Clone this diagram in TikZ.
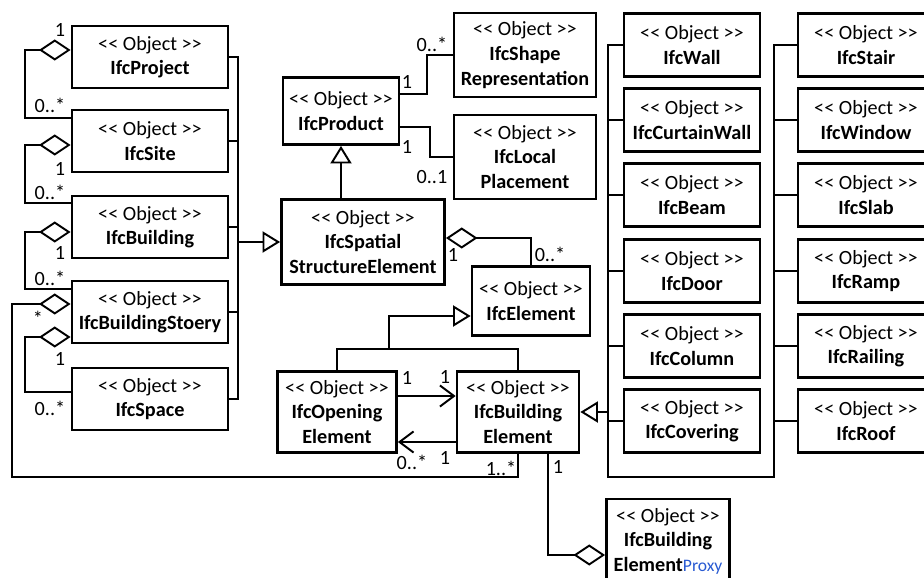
\documentclass[tikz,border=0pt]{standalone}
\usepackage{fontspec}
\setmainfont{Carlito}
\usetikzlibrary{arrows.meta}
\definecolor{proxyblue}{RGB}{40,90,210}
\newcommand{\objtag}{<\kern0pt< Object >\kern0pt>}

\begin{document}
\begin{tikzpicture}[x=0.02cm, y=-0.02cm,
  obj/.style={draw, line width=1.6pt, inner sep=0pt, align=center, font=\fontsize{11.5}{14}\selectfont},
  link/.style={line width=1.1pt},
  agg/.style={link, {Diamond[open, length=18pt, width=12pt]}-},
  gen/.style={link, -{Triangle[open, length=10pt, width=12pt]}},
  nav/.style={link, -{Straight Barb[length=8pt, width=12pt]}},
  mult/.style={font=\fontsize{11.5}{14}\selectfont, inner sep=0pt}]
  \useasboundingbox (0,0) rectangle (924,578);
  \clip (0,0) rectangle (924,578);

  % spatial structure (left column)
  \node[obj, minimum width=3.12cm, minimum height=1.24cm] (proj) at (150,57) {\objtag\\\textbf{IfcProject}};
  \node[obj, minimum width=3.12cm, minimum height=1.24cm] (site) at (150,141) {\objtag\\\textbf{IfcSite}};
  \node[obj, minimum width=3.12cm, minimum height=1.24cm] (bldg) at (150,227) {\objtag\\\textbf{IfcBuilding}};
  \node[obj, minimum width=3.12cm, minimum height=1.24cm] (storey) at (150,312) {\objtag\\\textbf{IfcBuildingStoery}};
  \node[obj, minimum width=3.12cm, minimum height=1.24cm] (space) at (150,399) {\objtag\\\textbf{IfcSpace}};

  % middle part
  \node[obj, minimum width=2.32cm, minimum height=1.34cm] (prod) at (341,111) {\objtag\\\textbf{IfcProduct}};
  \node[obj, minimum width=2.84cm, minimum height=1.68cm] (shape) at (525,55) {\objtag\\\textbf{IfcShape}\\\textbf{Representation}};
  \node[obj, minimum width=2.84cm, minimum height=1.68cm] (local) at (525,157) {\objtag\\\textbf{IfcLocal}\\\textbf{Placement}};
  \node[obj, minimum width=3.26cm, minimum height=1.70cm] (sse) at (363,242) {\objtag\\\textbf{IfcSpatial}\\\textbf{StructureElement}};
  \node[obj, minimum width=2.36cm, minimum height=1.38cm] (elem) at (531,301) {\objtag\\\textbf{IfcElement}};
  \node[obj, minimum width=2.38cm, minimum height=1.62cm] (open) at (337,412) {\objtag\\\textbf{IfcOpening}\\\textbf{Element}};
  \node[obj, minimum width=2.44cm, minimum height=1.62cm] (belem) at (518,412) {\objtag\\\textbf{IfcBuilding}\\\textbf{Element}};
  \node[obj, minimum width=2.46cm, minimum height=1.68cm] (proxy) at (668,541) {\objtag\\\textbf{IfcBuilding}\\\textbf{Element}{\color{proxyblue}\fontsize{10}{12}\selectfont Proxy}};

  % building elements (right columns)
  \node[obj, minimum width=2.72cm, minimum height=1.26cm] (wall) at (692,45) {\objtag\\\textbf{IfcWall}};
  \node[obj, minimum width=2.72cm, minimum height=1.26cm] (cwall) at (692,120) {\objtag\\\textbf{IfcCurtainWall}};
  \node[obj, minimum width=2.72cm, minimum height=1.26cm] (beam) at (692,195) {\objtag\\\textbf{IfcBeam}};
  \node[obj, minimum width=2.72cm, minimum height=1.26cm] (door) at (692,271) {\objtag\\\textbf{IfcDoor}};
  \node[obj, minimum width=2.72cm, minimum height=1.26cm] (column) at (692,346) {\objtag\\\textbf{IfcColumn}};
  \node[obj, minimum width=2.72cm, minimum height=1.26cm] (covering) at (692,421) {\objtag\\\textbf{IfcCovering}};
  \node[obj, minimum width=2.72cm, minimum height=1.26cm] (stair) at (866,45) {\objtag\\\textbf{IfcStair}};
  \node[obj, minimum width=2.72cm, minimum height=1.26cm] (window) at (866,120) {\objtag\\\textbf{IfcWindow}};
  \node[obj, minimum width=2.72cm, minimum height=1.26cm] (slab) at (866,195) {\objtag\\\textbf{IfcSlab}};
  \node[obj, minimum width=2.72cm, minimum height=1.26cm] (ramp) at (866,271) {\objtag\\\textbf{IfcRamp}};
  \node[obj, minimum width=2.72cm, minimum height=1.26cm] (railing) at (866,346) {\objtag\\\textbf{IfcRailing}};
  \node[obj, minimum width=2.72cm, minimum height=1.26cm] (roof) at (866,421) {\objtag\\\textbf{IfcRoof}};

  % aggregations on the left
  \draw[agg] (proj.west |- 0,50) -- (25,50) |- (site.west |- 0,118);
  \draw[agg] (site.west |- 0,145) -- (25,145) |- (bldg.west |- 0,203);
  \draw[agg] (bldg.west |- 0,232) -- (25,232) |- (storey.west |- 0,289);
  \draw[agg] (storey.west |- 0,337) -- (25,337) |- (space.west |- 0,392);
  \draw[agg] (storey.west |- 0,304) -- (12,304) |- (belem.south |- 0,477) -- (belem.south);

  % left bus into IfcSpatialStructureElement
  \coordinate (busL) at (238,0);
  \draw[link] (proj.east) -- (proj.east -| busL) -- (space.east -| busL) -- (space.east);
  \foreach \n in {site,bldg,storey}
    \draw[link] (\n.east) -- (\n.east -| busL);
  \draw[gen] (sse.west -| busL) -- (sse.west);

  % product
  \draw[gen] (sse.north -| prod.south) -- (prod.south);
  \draw[link] (prod.east |- 0,94) -- (427,94) |- (shape.west);
  \draw[link] (prod.east |- 0,127) -- (430,127) |- (local.west);
  \draw[agg] (sse.east |- 0,238) -| (elem.north);

  % element
  \coordinate (gsplit) at (389,349);
  \draw[link] (open.north) |- (belem.north |- gsplit) -- (belem.north);
  \draw[gen] (gsplit) |- (elem.west |- 0,316);
  \draw[nav] (open.east |- 0,396) -- (belem.west |- 0,396);
  \draw[nav] (belem.west |- 0,442) -- (open.east |- 0,442);
  \draw[agg] (proxy.west |- 0,555) -| (belem.south -| 548,0);

  % right bus into IfcBuildingElement
  \coordinate (busA) at (608,477);
  \coordinate (busB) at (774,477);
  \draw[link] (wall.west) -| (busA) -- (busB) |- (stair.west);
  \foreach \n in {cwall,beam,door,column,covering}
    \draw[link] (\n.west) -- (\n.west -| busA);
  \foreach \n in {window,slab,ramp,railing,roof}
    \draw[link] (\n.west) -- (\n.west -| busB);
  \draw[gen] (belem.east -| busA) -- (belem.east);

  % multiplicities
  \node[mult] (m1) at (60,30) {1};
  \node[mult] (m2) at (50,105) {0..*};
  \node[mult] (m3) at (60,169) {1};
  \node[mult] (m4) at (50,192) {0..*};
  \node[mult] (m5) at (60,253) {1};
  \node[mult] (m6) at (50,278) {0..*};
  \node[mult] (m7) at (38,318) {*};
  \node[mult] (m8) at (60,359) {1};
  \node[mult] (m9) at (50,408) {0..*};
  \node[mult] (m10) at (407,82) {1};
  \node[mult] (m11) at (432,44) {0..*};
  \node[mult] (m12) at (407,147) {1};
  \node[mult] (m13) at (432,177) {0..1};
  \node[mult] (m14) at (453,255) {1};
  \node[mult] (m15) at (550,254) {0..*};
  \node[mult] (m16) at (407,378) {1};
  \node[mult] (m17) at (445,377) {1};
  \node[mult] (m18) at (412,462) {0..*};
  \node[mult] (m19) at (445,458) {1};
  \node[mult] (m20) at (501,468) {1..*};
  \node[mult] (m21) at (558,467) {1};
\end{tikzpicture}
\end{document}
